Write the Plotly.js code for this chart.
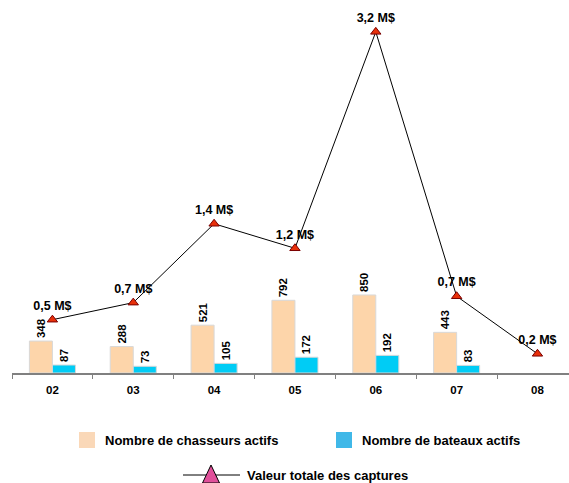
<!DOCTYPE html>
<html><head><meta charset="utf-8">
<script src="https://cdn.plot.ly/plotly-3.0.1.min.js"></script>
<style>html,body{margin:0;padding:0;background:#fff}#c{width:569px;height:483px}</style>
</head><body><div id="c"></div>
<script>
const years = ['02','03','04','05','06','07','08'];
const chasseurs = [348, 288, 521, 792, 850, 443, null];
const bateaux = [87, 73, 105, 172, 192, 83, null];
const valeur = [0.5, 0.66, 1.4, 1.17, 3.2, 0.72, 0.18];
const valeurLabels = ['0,5 M$','0,7 M$','1,4 M$','1,2 M$','3,2 M$','0,7 M$','0,2 M$'];
const legendNames = ['Nombre de chasseurs actifs','Nombre de bateaux actifs','Valeur totale des captures'];

const FONT = 'Liberation Sans, Arial, sans-serif';
const W = 569, H = 483, L = 12, R = 0, T = 10, B = 110;
const pw = W - L - R, ph = H - T - B;
const px = x => (x - L) / pw;
const py = y => (H - B - y) / ph;

const barText = a => a.map(v => v == null ? '' : String(v));

const traces = [
  {type:'bar', x: years, y: chasseurs, name: legendNames[0], text: barText(chasseurs),
   textposition:'outside', textangle:-90, cliponaxis:false,
   textfont:{family:FONT, size:11.5, color:'#000', weight:'bold'},
   marker:{color:'#FDD5AA', line:{color:'#D8D8D8', width:1}}, showlegend:false},
  {type:'bar', x: years, y: bateaux, name: legendNames[1], text: barText(bateaux),
   textposition:'outside', textangle:-90, cliponaxis:false,
   textfont:{family:FONT, size:11.5, color:'#000', weight:'bold'},
   marker:{color:'#00CCF5', line:{color:'#D8D8D8', width:1}}, showlegend:false},
  {type:'scatter', mode:'lines+markers+text', x: years, y: valeur, yaxis:'y2', name: legendNames[2],
   text: valeurLabels, textposition:'top center', cliponaxis:false,
   textfont:{family:FONT, size:12.5, color:'#000', weight:'bold'},
   line:{color:'#000', width:1},
   marker:{symbol:'triangle-up', size:9, color:'#E8300A', line:{color:'#7A0000', width:1}},
   showlegend:false}
];

const shapes = [
  {type:'rect', xref:'paper', yref:'paper', x0:px(79), x1:px(95), y0:py(448), y1:py(432),
   fillcolor:'#FAD8B8', line:{width:0}},
  {type:'rect', xref:'paper', yref:'paper', x0:px(336), x1:px(352), y0:py(448), y1:py(432),
   fillcolor:'#40B8E8', line:{width:0}},
  {type:'line', xref:'paper', yref:'paper', x0:px(183), x1:px(240), y0:py(475), y1:py(475),
   line:{color:'#000', width:1}},
  {type:'path', xref:'paper', yref:'paper',
   path:`M ${px(211)} ${py(465)} L ${px(219.5)} ${py(483)} L ${px(202.5)} ${py(483)} Z`,
   fillcolor:'#E0509A', line:{color:'#000', width:1}}
];

const annotations = [
  {xref:'paper', yref:'paper', x:px(103), y:py(440), xanchor:'left', yanchor:'middle', showarrow:false,
   text:legendNames[0], font:{family:FONT, size:13, color:'#000', weight:'bold'}},
  {xref:'paper', yref:'paper', x:px(360), y:py(440), xanchor:'left', yanchor:'middle', showarrow:false,
   text:legendNames[1], font:{family:FONT, size:13, color:'#000', weight:'bold'}},
  {xref:'paper', yref:'paper', x:px(245), y:py(475), xanchor:'left', yanchor:'middle', showarrow:false,
   text:legendNames[2], font:{family:FONT, size:13, color:'#000', weight:'bold'}}
];

const layout = {
  width:W, height:H, margin:{l:L, r:R, t:T, b:B, pad:0},
  paper_bgcolor:'#fff', plot_bgcolor:'#fff',
  barmode:'group', bargap:0.43, bargroupgap:0,
  font:{family:FONT},
  xaxis:{type:'category', range:[-0.5, 6.39], showline:true, linecolor:'#808080', linewidth:2,
    ticks:'outside', ticklen:4, tickcolor:'#808080', tickwidth:1, tickson:'boundaries',
    ticklabelstandoff:5,
    showgrid:false, zeroline:false, fixedrange:true,
    tickfont:{family:FONT, size:11.5, color:'#000', weight:'bold'}},
  yaxis:{range:[0, 3954], visible:false, showgrid:false, zeroline:false},
  yaxis2:{range:[0, 3.405], overlaying:'y', side:'right', visible:false, showgrid:false, zeroline:false},
  shapes, annotations, showlegend:false
};

Plotly.newPlot('c', traces, layout, {displayModeBar:false, staticPlot:true});
</script></body></html>
